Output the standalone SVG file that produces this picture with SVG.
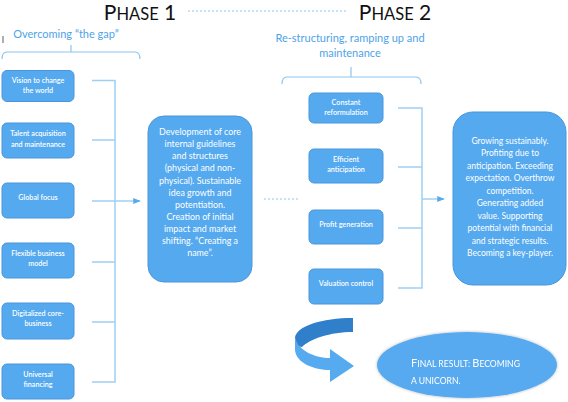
<svg xmlns="http://www.w3.org/2000/svg" width="568" height="402" viewBox="0 0 568 402">
<defs>
<style>
.box{fill:#55a9ef;stroke:#4a95dc;stroke-width:1}
.bt{font-family:Lato,"Open Sans",sans-serif;font-size:7.2px;fill:#ffffff;text-anchor:middle;font-weight:600}
.big{font-family:Lato,"Open Sans",sans-serif;font-size:8.9px;fill:#ffffff;text-anchor:middle}
.big2{font-family:Lato,"Open Sans",sans-serif;font-size:8.5px;fill:#ffffff;text-anchor:middle}
.title{font-family:Lato,"Open Sans",sans-serif;fill:#111111}
.sub{font-family:Lato,"Open Sans",sans-serif;font-size:11px;fill:#4ea3e8;text-anchor:middle}
.br{fill:none;stroke:#8cc6ee;stroke-width:1.2}
.con{fill:none;stroke:#9ed0f3;stroke-width:1.5}
.dot{fill:none;stroke:#8cc6ee;stroke-width:1;stroke-dasharray:2,2}
</style>
<marker id="ah" viewBox="0 0 10 10" refX="9" refY="5" markerWidth="5" markerHeight="5" orient="auto">
<path d="M0,1 L10,5 L0,9 Z" fill="#5aaae8"/>
</marker>
<filter id="glow" x="-10%" y="-20%" width="120%" height="140%">
<feGaussianBlur in="SourceAlpha" stdDeviation="1.5"/>
<feComponentTransfer><feFuncA type="linear" slope="0.3"/></feComponentTransfer>
<feMerge><feMergeNode/><feMergeNode in="SourceGraphic"/></feMerge>
</filter>
</defs>
<rect width="568" height="402" fill="#ffffff"/>

<g id="titles">
<text class="title" x="140" y="20" text-anchor="middle"><tspan font-size="21">P</tspan><tspan font-size="16.5">HASE</tspan><tspan font-size="21"> 1</tspan></text>
<text class="title" x="395" y="20" text-anchor="middle"><tspan font-size="21">P</tspan><tspan font-size="16.5">HASE</tspan><tspan font-size="21"> 2</tspan></text>
<line class="dot" x1="188" y1="11" x2="346" y2="11"/>
<line x1="3" y1="36" x2="3" y2="43" stroke="#333" stroke-width="0.8"/>
<text class="sub" x="66" y="38">Overcoming “the gap”</text>
<text class="sub" x="350" y="42">Re-structuring, ramping up and</text>
<text class="sub" x="350" y="57">maintenance</text>
<path class="br" d="M2,59 Q2,52 7,52 L135,52 Q140,52 140,59 M71,45 L71,52"/>
<path class="br" d="M282,84 Q282,77 287,77 L416,77 Q421,77 421,84 M351,67 L351,77"/>
</g>

<g id="connectors">
<path class="con" d="M92,80.5 L115,80.5 L115,382 L92,382 M92,140 L115,140 M92,201 L115,201 M92,262 L115,262 M92,322 L115,322"/>
<line class="con" x1="115" y1="201" x2="140" y2="201" marker-end="url(#ah)"/>
<line class="dot" x1="264" y1="199" x2="300" y2="199"/>
<path class="con" d="M398,108 L422,108 L422,288 L398,288 M398,167 L422,167 M398,228 L422,228"/>
<line class="con" x1="422" y1="199" x2="444" y2="199" marker-end="url(#ah)"/>
</g>

<g id="n-vision"><rect class="box" x="2" y="70.5" width="72" height="31" rx="5"/>
<text class="bt" x="38" y="83">Vision to change</text><text class="bt" x="38" y="92.5">the world</text></g>
<g id="n-talent"><rect class="box" x="2" y="123" width="72" height="35" rx="5"/>
<text class="bt" x="38" y="136">Talent acquisition</text><text class="bt" x="38" y="147">and maintenance</text></g>
<g id="n-global"><rect class="box" x="2" y="183" width="72" height="35" rx="5"/>
<text class="bt" x="38" y="200">Global focus</text></g>
<g id="n-flexible"><rect class="box" x="2" y="243" width="72" height="35" rx="5"/>
<text class="bt" x="38" y="256">Flexible business</text><text class="bt" x="38" y="266">model</text></g>
<g id="n-digital"><rect class="box" x="2" y="303" width="72" height="36" rx="5"/>
<text class="bt" x="38" y="316">Digitalized core-</text><text class="bt" x="38" y="326">business</text></g>
<g id="n-universal"><rect class="box" x="2" y="364" width="72" height="35" rx="5"/>
<text class="bt" x="38" y="377">Universal</text><text class="bt" x="38" y="387">financing</text></g>

<g id="n-core"><rect class="box" x="148" y="116" width="104" height="166" rx="16"/>
<text class="big" x="200" y="135">Development of core</text>
<text class="big" x="200" y="147.2">internal guidelines</text>
<text class="big" x="200" y="159.3">and structures</text>
<text class="big" x="200" y="171.4">(physical and non-</text>
<text class="big" x="200" y="183.5">physical). Sustainable</text>
<text class="big" x="200" y="195.6">idea growth and</text>
<text class="big" x="200" y="207.7">potentiation.</text>
<text class="big" x="200" y="219.8">Creation of initial</text>
<text class="big" x="200" y="231.9">impact and market</text>
<text class="big" x="200" y="244">shifting. “Creating a</text>
<text class="big" x="200" y="256">name”.</text></g>

<g id="n-constant"><rect class="box" x="309" y="93" width="74" height="30" rx="5"/>
<text class="bt" x="346" y="105">Constant</text><text class="bt" x="346" y="115">reformulation</text></g>
<g id="n-efficient"><rect class="box" x="309" y="149" width="74" height="34" rx="5"/>
<text class="bt" x="346" y="162">Efficient</text><text class="bt" x="346" y="172">anticipation</text></g>
<g id="n-profit"><rect class="box" x="309" y="210" width="74" height="34" rx="5"/>
<text class="bt" x="346" y="227">Profit generation</text></g>
<g id="n-valuation"><rect class="box" x="309" y="269" width="74" height="35" rx="5"/>
<text class="bt" x="346" y="286">Valuation control</text></g>

<g id="n-growing"><rect class="box" x="453" y="112" width="113" height="173" rx="20"/>
<text class="big2" x="510" y="143.5">Growing sustainably.</text>
<text class="big2" x="510" y="156">Profiting due to</text>
<text class="big2" x="510" y="168.5">anticipation. Exceeding</text>
<text class="big2" x="510" y="181">expectation. Overthrow</text>
<text class="big2" x="510" y="193.5">competition.</text>
<text class="big2" x="510" y="206">Generating added</text>
<text class="big2" x="510" y="218.5">value. Supporting</text>
<text class="big2" x="510" y="231">potential with financial</text>
<text class="big2" x="510" y="243.5">and strategic results.</text>
<text class="big2" x="510" y="256">Becoming a key-player.</text></g>

<g id="curved-arrow">
<path d="M295,338 L295,350 C296,363 314,370 330,370 L330,382 L354,366 L330,349 L330,358 C315,358 299,351 295,338 Z" fill="#55aaf0"/>
<path d="M353,318 C322,318 296,326 295,338 C297,344 299,347 302,347 C310,339 330,332 353,332 Z" fill="#2f7fcb"/>
</g>

<g id="n-final" filter="url(#glow)"><ellipse cx="467" cy="365" rx="90" ry="33" fill="#58aaf0"/>
<text font-family="Lato,'Open Sans',sans-serif" fill="#ffffff" x="411" y="367"><tspan font-size="11">F</tspan><tspan font-size="8.6">INAL RESULT: </tspan><tspan font-size="11">B</tspan><tspan font-size="8.6">ECOMING</tspan></text>
<text font-family="Lato,'Open Sans',sans-serif" fill="#ffffff" x="411" y="384"><tspan font-size="8.6">A UNICORN.</tspan></text></g>
</svg>
